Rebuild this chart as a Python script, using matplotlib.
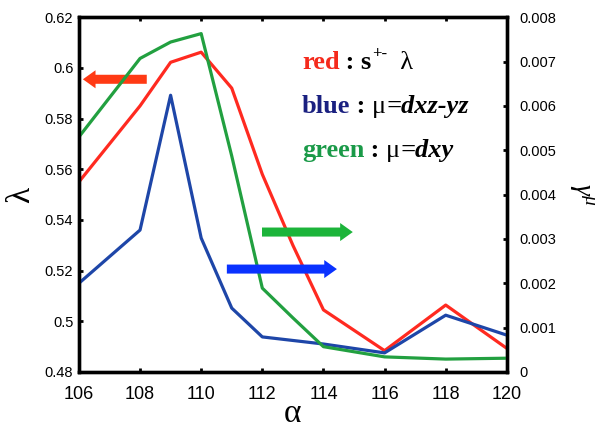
import matplotlib
matplotlib.use('Agg')
import matplotlib.pyplot as plt

plt.rcParams['mathtext.fontset'] = 'custom'
plt.rcParams['mathtext.rm'] = 'Liberation Serif'
plt.rcParams['mathtext.it'] = 'Liberation Serif:italic'
plt.rcParams['mathtext.bf'] = 'Liberation Serif:bold'

alpha = [106, 108, 109, 110, 111, 112, 113, 114, 116, 118, 120]
lam_red = [0.555, 0.585, 0.6022, 0.6062, 0.592, 0.558, 0.530, 0.5045, 0.4884, 0.5064, 0.4893]
gam_blue = [2.0e-3, 3.2e-3, 6.24e-3, 3.02e-3, 1.44e-3, 0.79e-3, 0.71e-3, 0.63e-3, 0.43e-3, 1.28e-3, 0.83e-3]
gam_green = [5.30e-3, 7.07e-3, 7.44e-3, 7.63e-3, 4.87e-3, 1.89e-3, 1.22e-3, 0.57e-3, 0.34e-3, 0.29e-3, 0.31e-3]

xticks = [106, 108, 110, 112, 114, 116, 118, 120]
lam_ticks = [0.48, 0.50, 0.52, 0.54, 0.56, 0.58, 0.60, 0.62]
lam_labels = ['0.48', '0.5', '0.52', '0.54', '0.56', '0.58', '0.6', '0.62']
gam_ticks = [0, 0.001, 0.002, 0.003, 0.004, 0.005, 0.006, 0.007, 0.008]
gam_labels = ['0', '0.001', '0.002', '0.003', '0.004', '0.005', '0.006', '0.007', '0.008']

c_red = '#ff2a20'
c_blue = '#1e46a8'
c_green = '#22a040'

fig = plt.figure(figsize=(6.07, 4.30), dpi=100)
ax = fig.add_axes([0.130, 0.135, 0.705, 0.825])
ax2 = ax.twinx()

ax.plot(alpha, lam_red, color=c_red, lw=2.3, zorder=2)
ax2.plot(alpha, gam_blue, color=c_blue, lw=2.3)
ax2.plot(alpha, gam_green, color=c_green, lw=2.3)

ax.set_xlim(106, 120)
ax.set_ylim(0.48, 0.62)
ax2.set_ylim(0, 0.008)
ax.set_xticks(xticks)
ax.set_xticklabels([str(v) for v in xticks], fontsize=13, family='Liberation Sans')
ax.set_yticks(lam_ticks)
ax.set_yticklabels(lam_labels, fontsize=10.5, family='Liberation Sans')
ax2.set_yticks(gam_ticks)
ax2.set_yticklabels(gam_labels, fontsize=10.5, family='Liberation Sans')

for a in (ax, ax2):
    for s in a.spines.values():
        s.set_linewidth(2.4)
ax.tick_params(direction='in', length=3, width=2, top=True, right=False)
ax.tick_params(axis='x', pad=10)
ax.tick_params(axis='y', pad=4)
ax2.tick_params(direction='in', length=3, width=2, pad=9)

ax.set_xlabel('α', fontsize=24, family='Liberation Serif', labelpad=-3)
ax.set_ylabel('λ', fontsize=24, family='Liberation Serif', labelpad=6)
ax2.set_ylabel(r'$\gamma^\mu$', fontsize=20, rotation=-90, va='bottom', labelpad=8)

# arrows showing which axis each curve uses
arr = dict(arrowstyle='simple,head_width=1.0,head_length=0.7,tail_width=0.5',
           mutation_scale=13, shrinkA=0, shrinkB=0, lw=0)
ax.annotate('', xy=(106.13, 0.5955), xytext=(108.22, 0.5955),
            arrowprops=dict(arr, color='#ff3a14'))
ax2.annotate('', xy=(114.96, 3.155e-3), xytext=(111.99, 3.155e-3),
             arrowprops=dict(arr, color='#1cb43a'))
ax2.annotate('', xy=(114.44, 2.32e-3), xytext=(110.84, 2.32e-3),
             arrowprops=dict(arr, color='#0a32ff'))


def chain(a, x, y, pieces):
    prev = None
    for txt, kw, rise in pieces:
        kw = dict(kw)
        kw.setdefault('family', 'Liberation Serif')
        kw.setdefault('fontsize', 19)
        if prev is None:
            prev = a.text(x, y, txt, transform=a.transAxes, va='baseline', **kw)
        else:
            prev = a.annotate(txt, xy=(1, y), xycoords=(prev, 'axes fraction'),
                              xytext=(0, rise), textcoords='offset points',
                              va='baseline', **kw)


chain(ax2, 0.521, 0.854, [
    ('red', dict(weight='bold', color='#f52a1c'), 0),
    (' : s', dict(weight='bold'), 0),
    ('+-', dict(weight='bold', fontsize=12), 8),
    ('  λ', dict(), 0),
])
chain(ax2, 0.521, 0.730, [
    ('blue', dict(weight='bold', color='#1a2080'), 0),
    (' : ', dict(weight='bold'), 0),
    ('μ', dict(), 0),
    ('=dxz-yz', dict(weight='bold', style='italic'), 0),
])
chain(ax2, 0.521, 0.606, [
    ('green', dict(weight='bold', color='#1a9a48'), 0),
    (' : ', dict(weight='bold'), 0),
    ('μ', dict(), 0),
    ('=dxy', dict(weight='bold', style='italic'), 0),
])

fig.savefig('out.png', dpi=100)
